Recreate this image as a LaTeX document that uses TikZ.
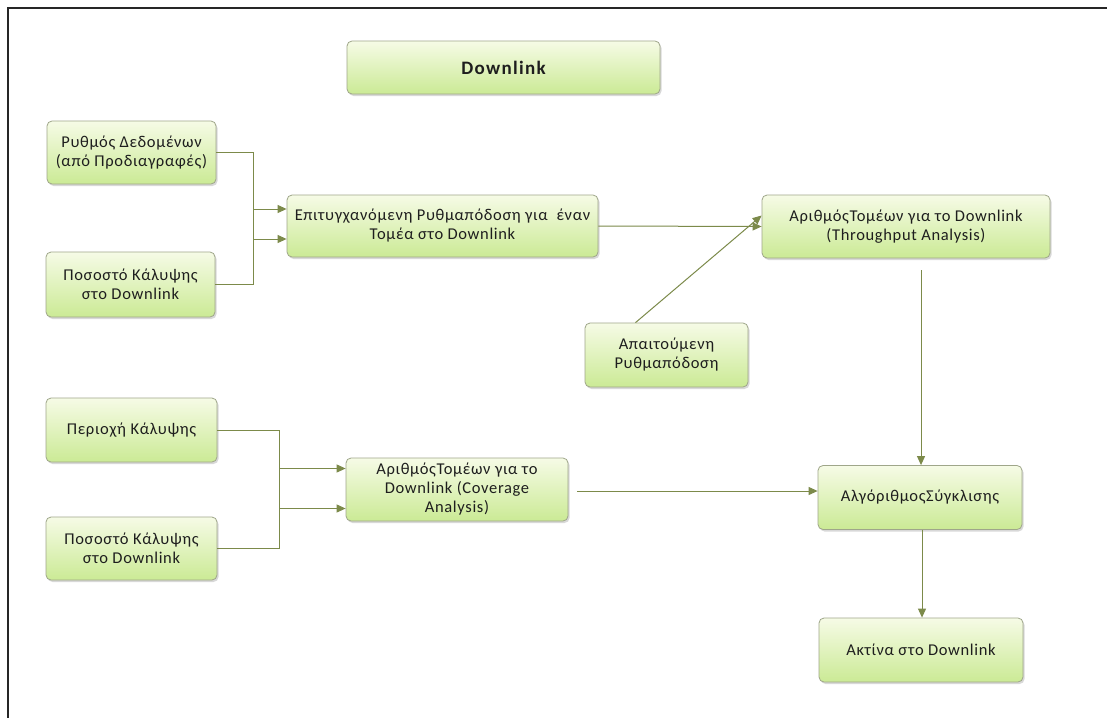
\documentclass[tikz,border=0pt]{standalone}
\usepackage{fontspec}
\setmainfont{Carlito}
\newfontfamily\boxfont[LetterSpace=4]{Carlito}
\newfontfamily\titlefont[LetterSpace=7]{Carlito}
\usetikzlibrary{shadows,arrows.meta}
\definecolor{boxline}{HTML}{9FA68A}
\definecolor{boxtop}{HTML}{F6FBE6}
\definecolor{boxbot}{HTML}{CBEA95}
\definecolor{arrowc}{HTML}{7C8A4A}
\definecolor{txt}{HTML}{1E1E1E}
\begin{document}
\begin{tikzpicture}[x=1pt,y=-1pt,
  box/.style={draw=boxline, line width=0.8pt, rounded corners=5pt,
    top color=boxtop, bottom color=boxbot, align=center,
    font=\boxfont\fontsize{16.5}{19}\selectfont, text=txt, inner sep=2pt,
    drop shadow={shadow xshift=1.5pt, shadow yshift=-2pt, opacity=0.3}},
  conn/.style={draw=arrowc, line width=1pt, -{Triangle[length=9pt,width=8pt]}}]
\useasboundingbox (0,0) rectangle (1107,718);
\fill[white] (0,0) rectangle (1107,718);
% frame (top and left edges visible)
\draw[line width=2.5pt, black!85] (1107,8) -- (8,8) -- (8,718);

\node[box, minimum width=313pt, minimum height=53pt, font=\titlefont\fontsize{19}{22}\selectfont\bfseries] (title) at (503.5,67.5) {Downlink};

\node[box, minimum width=169pt, minimum height=63pt] (rd) at (131.5,152.5) {Ρυθμός Δεδομένων\\(από Προδιαγραφές)};
\node[box, minimum width=169pt, minimum height=65pt] (pk1) at (130.5,284.5) {Ποσοστό Κάλυψης\\στο Downlink};
\node[box, minimum width=311pt, minimum height=62pt] (ep) at (442.5,226) {Επιτυγχανόμενη Ρυθμαπόδοση για\ \ έναν\\Τομέα στο Downlink};
\node[box, minimum width=288pt, minimum height=63pt] (tp) at (906,226.5) {ΑριθμόςΤομέων για το Downlink\\(Throughput Analysis)};
\node[box, minimum width=163pt, minimum height=64pt] (ap) at (666.5,355) {Απαιτούμενη\\Ρυθμαπόδοση};

\node[box, minimum width=171pt, minimum height=64pt] (pe) at (131.5,430) {Περιοχή Κάλυψης};
\node[box, minimum width=171pt, minimum height=63pt] (pk2) at (131.5,548.5) {Ποσοστό Κάλυψης\\στο Downlink};
\node[box, minimum width=222pt, minimum height=63pt] (cv) at (457,489.5) {ΑριθμόςΤομέων για το\\Downlink (Coverage\\Analysis)};
\node[box, minimum width=204pt, minimum height=64pt] (al) at (920,497.5) {ΑλγόριθμοςΣύγκλισης};
\node[box, minimum width=204pt, minimum height=64pt] (ak) at (921,650) {Ακτίνα στο Downlink};

% connectors
\coordinate (rdj) at (253,0);
\draw[conn] (rd.east) -- (rd.east -| rdj) |- ([yshift=-13pt]ep.west);
\draw[conn] (pk1.east) -- (pk1.east -| rdj) |- ([yshift=17pt]ep.west);
\draw[conn] (ep.east) -- (tp.west);
\draw[conn] ([xshift=-31pt]ap.north) -- ([yshift=11pt]tp.west);
\coordinate (tps) at (921,270);
\draw[conn] (tps) -- (tps |- al.north);

\coordinate (pej) at (279,0);
\draw[conn] (pe.east) -- (pe.east -| pej) |- ([yshift=-19pt]cv.west);
\draw[conn] (pk2.east) -- (pk2.east -| pej) |- ([yshift=21pt]cv.west);
\coordinate (cvs) at (577,491);
\draw[conn] (cvs) -- (al.west |- cvs);
\draw[conn] ([xshift=2pt]al.south) -- ([xshift=1pt]ak.north);
\end{tikzpicture}
\end{document}
